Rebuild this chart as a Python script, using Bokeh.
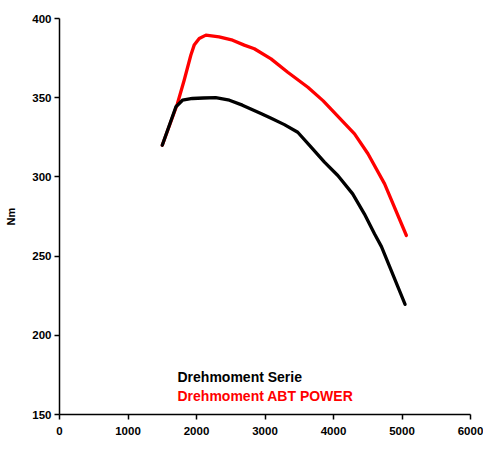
from bokeh.plotting import figure
from bokeh.models import Label, Range1d, FixedTicker
from bokeh.embed import file_html
from bokeh.resources import INLINE

# Data
rpm_serie = [1500, 1700, 1795, 1940, 2100, 2280, 2480, 2670, 2940, 3090, 3283, 3478, 3673,
             3868, 4063, 4280, 4450, 4600, 4700, 5045]
nm_serie = [320, 344.3, 348.4, 349.5, 349.8, 350, 348.4, 345.3, 340, 337, 333, 328.2, 318.8,
            309.3, 300.9, 289.3, 276.7, 264, 256, 219.5]

rpm_abt = [1500, 1720, 1820, 1917, 1966, 2040, 2137, 2330, 2527, 2697, 2844, 3088, 3332,
           3626, 3850, 4307, 4503, 4746, 5064]
nm_abt = [320, 346, 361, 376.8, 383.2, 387.4, 389.5, 388.4, 386.3, 383.2, 380.9, 374.5, 366.1,
          356.6, 348, 327.2, 314.6, 295.6, 263]

x_ticks = [0, 1000, 2000, 3000, 4000, 5000, 6000]
y_ticks = [150, 200, 250, 300, 350, 400]

series_labels = ["Drehmoment Serie", "Drehmoment ABT POWER"]
series_colors = ["#000000", "#ff0000"]

FONT = "Liberation Sans"

p = figure(width=483, height=456, output_backend="svg", toolbar_location=None,
           x_range=Range1d(0, 6000), y_range=Range1d(150, 400),
           min_border_left=59, min_border_right=13, min_border_top=18, min_border_bottom=42)
p.outline_line_color = None
p.grid.visible = False
p.background_fill_color = "white"

# red drawn first so the black line lies on top where they overlap
p.line(rpm_abt, nm_abt, line_color=series_colors[1], line_width=3.3,
       line_join="round", line_cap="round")
p.line(rpm_serie, nm_serie, line_color=series_colors[0], line_width=3.3,
       line_join="round", line_cap="round")

for ax in (p.xaxis[0], p.yaxis[0]):
    ax.axis_line_width = 1.5
    ax.axis_line_color = "black"
    ax.major_tick_line_color = "black"
    ax.major_tick_line_width = 1.5
    ax.major_tick_in = 0
    ax.major_tick_out = 5
    ax.minor_tick_line_color = None
    ax.major_label_text_font = FONT
    ax.major_label_text_font_style = "bold"
    ax.major_label_text_font_size = "11.5px"
    ax.major_label_text_color = "black"
    ax.axis_label_text_font = FONT
    ax.axis_label_text_font_style = "bold"
    ax.axis_label_text_font_size = "11px"
    ax.axis_label_text_color = "black"

p.xaxis[0].ticker = FixedTicker(ticks=x_ticks)
p.yaxis[0].ticker = FixedTicker(ticks=y_ticks)
p.xaxis[0].major_label_standoff = 7
p.yaxis[0].major_label_standoff = 3
p.yaxis[0].axis_label = "Nm"
p.yaxis[0].axis_label_standoff = 12

p.add_layout(Label(x=204, y=-35, x_units="screen", y_units="screen", text="U/min",
                   text_font=FONT, text_font_style="bold", text_font_size="11px",
                   text_color="black", text_align="center", text_baseline="middle"))

for i, (lab, col) in enumerate(zip(series_labels, series_colors)):
    p.add_layout(Label(x=118, y=38 - 19 * i, x_units="screen", y_units="screen", text=lab,
                       text_font=FONT, text_font_style="bold", text_font_size="14px",
                       text_color=col, text_align="left", text_baseline="middle"))

open("out.html", "w").write(file_html(p, INLINE))
